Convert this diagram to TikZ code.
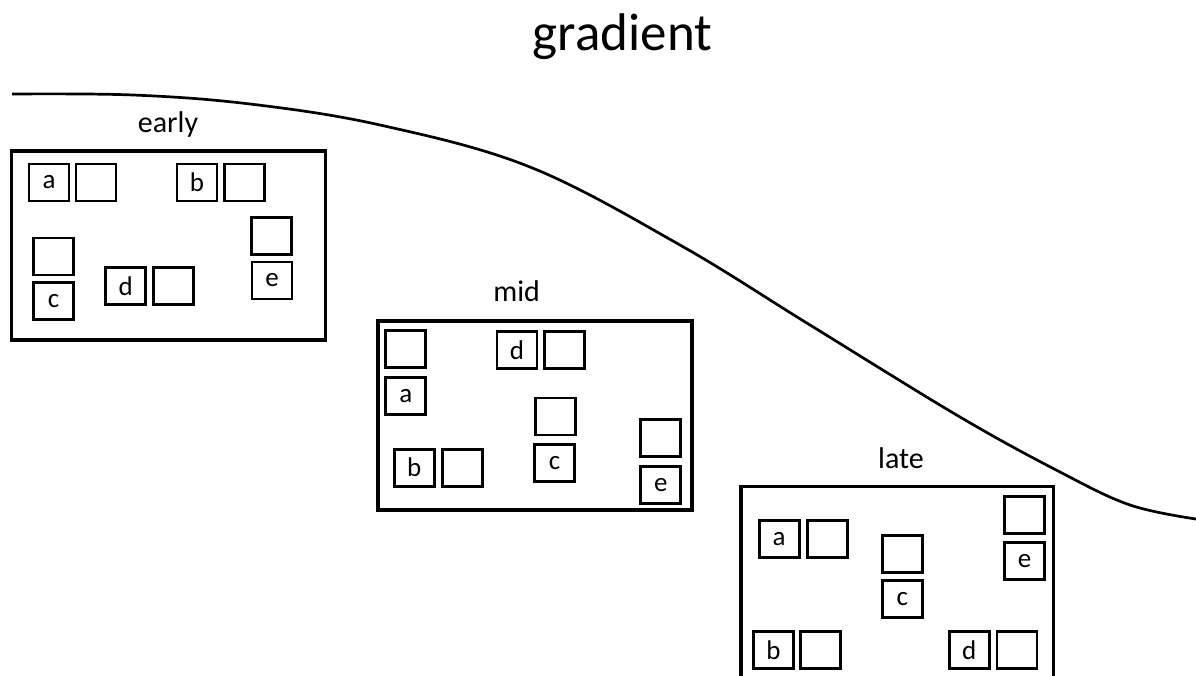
\documentclass[tikz,border=0pt]{standalone}
\usepackage{fontspec}
\setmainfont{Carlito}
\begin{document}
\begin{tikzpicture}[x=1pt,y=-1pt,
  panel/.style={draw, line width=3.6pt, minimum width=314, minimum height=189, inner sep=0pt},
  sq/.style={draw, line width=2.7pt, minimum width=40, minimum height=37, inner sep=0pt,
    font=\fontsize{27}{30}\selectfont},
  stagelabel/.style={anchor=base, inner sep=0pt, font=\fontsize{30}{34}\selectfont}]
\clip (0,0) rectangle (1196,675);

% title
\node[anchor=base, inner sep=0pt, font=\fontsize{53}{60}\selectfont] (title) at (622.5,50) {gradient};

% gradient curve
\draw[line width=2.7pt] plot[smooth, tension=0.6] coordinates
  {(12,94) (133,95) (250,104) (380,125) (530,167) (680,245) (810,325)
   (960,417) (1060,472) (1130,505) (1196,519)};

% early stage
\node[stagelabel] (earlylbl) at (168,132) {early};
\node[panel] (early) at (168.5,245.2) {};
\node[sq] (ea)  at (49,182.5) {a};
\node[sq] (ea2) at (96,182.5) {};
\node[sq] (eb)  at (197,182.5) {b};
\node[sq] (eb2) at (244.2,182.5) {};
\node[sq] (ec2) at (53.7,256.5) {};
\node[sq] (ec)  at (53.5,301) {c};
\node[sq] (ed)  at (125.7,286) {d};
\node[sq] (ed2) at (173.2,286) {};
\node[sq] (ee2) at (271.5,235.8) {};
\node[sq] (ee)  at (272,280.5) {e};

% mid stage
\node[stagelabel] (midlbl) at (516.7,301.7) {mid};
\node[panel] (mid) at (534.7,415.7) {};
\node[sq] (ma2) at (405.8,349.2) {};
\node[sq] (ma)  at (405.8,395.8) {a};
\node[sq] (md)  at (517,350.3) {d};
\node[sq] (md2) at (564.2,350.3) {};
\node[sq] (mb)  at (414.2,467.7) {b};
\node[sq] (mb2) at (462.7,467.7) {};
\node[sq] (mc2) at (555.3,416.5) {};
\node[sq] (mc)  at (554.7,463) {c};
\node[sq] (me2) at (660.8,438) {};
\node[sq] (me)  at (660.8,484.7) {e};

% late stage
\node[stagelabel] (latelbl) at (901,468.3) {late};
\node[panel, minimum width=312.7, minimum height=192] (late) at (897.2,582.5) {};
\node[sq] (la)  at (779.2,539) {a};
\node[sq] (la2) at (827.2,539) {};
\node[sq] (lc2) at (902.2,554) {};
\node[sq] (lc)  at (902.2,599.3) {c};
\node[sq] (le2) at (1024.7,515.3) {};
\node[sq] (le)  at (1024.7,560.8) {e};
\node[sq] (lb)  at (773.5,650.2) {b};
\node[sq] (lb2) at (820.8,650.2) {};
\node[sq] (ld)  at (969.3,650.2) {d};
\node[sq] (ld2) at (1017,650.2) {};
\end{tikzpicture}
\end{document}
